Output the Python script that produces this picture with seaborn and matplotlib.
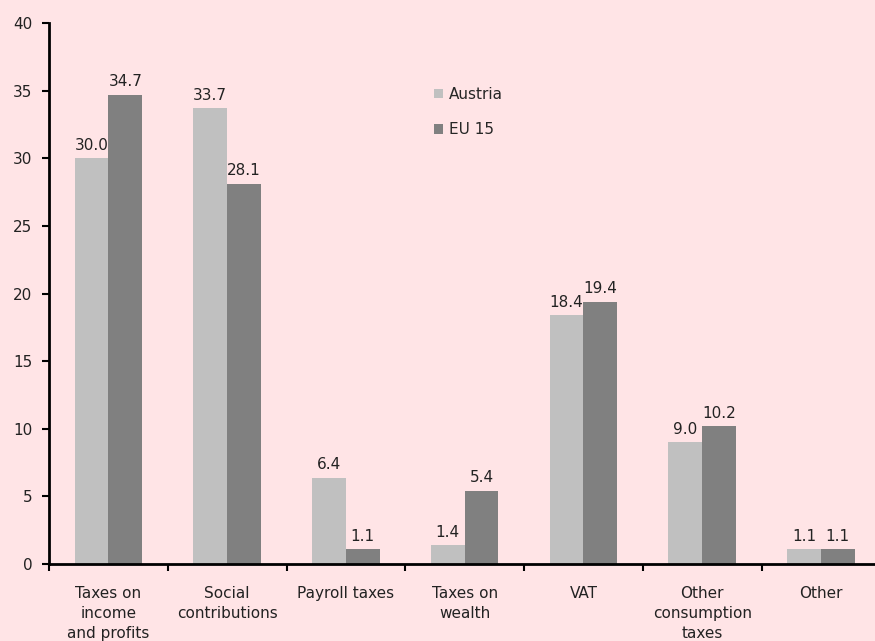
import matplotlib
matplotlib.use("Agg")
import matplotlib.pyplot as plt
import seaborn as sns
import pandas as pd
import numpy as np

categories = ["Taxes on\nincome\nand profits", "Social\ncontributions", "Payroll taxes",
              "Taxes on\nwealth", "VAT", "Other\nconsumption\ntaxes", "Other"]
austria = [30.0, 33.7, 6.4, 1.4, 18.4, 9.0, 1.1]
eu15 = [34.7, 28.1, 1.1, 5.4, 19.4, 10.2, 1.1]
series = ["Austria", "EU 15"]
yticks = [0, 5, 10, 15, 20, 25, 30, 35, 40]

df = pd.DataFrame({
    "category": categories * 2,
    "share": austria + eu15,
    "region": [series[0]] * len(categories) + [series[1]] * len(categories),
})

bg = "#ffe4e6"
txt = "#222222"
fs = 11
sns.set_theme(style="white")
plt.rcParams["font.family"] = ["DejaVu Sans"]

fig = plt.figure(figsize=(8.75, 6.41), dpi=100, facecolor=bg)
ax = fig.add_axes([0.056, 0.120, 0.950, 0.844])
ax.set_facecolor(bg)

sns.barplot(data=df, x="category", y="share", hue="region", order=categories,
            hue_order=series, palette=["#c0c0c0", "#808080"], width=0.57,
            saturation=1, linewidth=0, ax=ax, legend=True)

for cont in ax.containers:
    ax.bar_label(cont, fmt="%.1f", padding=4, fontsize=fs, color=txt)

ax.set_ylim(0, 40)
ax.set_xlim(-0.5, len(categories) - 0.5)
ax.set_yticks(yticks)
ax.set_yticklabels([str(v) for v in yticks], fontsize=fs, color=txt)
ax.set_xticks(range(len(categories)))
ax.set_xticklabels(categories, fontsize=fs, color=txt, linespacing=1.4, va="top")
ax.set_xticks(np.arange(len(categories) + 1) - 0.5, minor=True)
ax.tick_params(axis="x", which="major", length=0, pad=16)
ax.tick_params(axis="x", which="minor", length=5, width=1.5, color="black", direction="out", bottom=True)
ax.tick_params(axis="y", length=5, width=1.5, color="black", direction="out", left=True, pad=7)
ax.set_xlabel("")
ax.set_ylabel("")

for side in ["top", "right"]:
    ax.spines[side].set_visible(False)
for side in ["left", "bottom"]:
    ax.spines[side].set_color("black")
    ax.spines[side].set_linewidth(2)

handles, labels = ax.get_legend_handles_labels()
ax.legend(handles, labels, loc="upper left", bbox_to_anchor=(420 / 875, 1 - 73 / 641),
          bbox_transform=fig.transFigure, frameon=False, fontsize=fs,
          handlelength=0.6, handleheight=0.6, handletextpad=0.4, labelspacing=1.35)

fig.savefig("out.png", dpi=100, facecolor=bg)
